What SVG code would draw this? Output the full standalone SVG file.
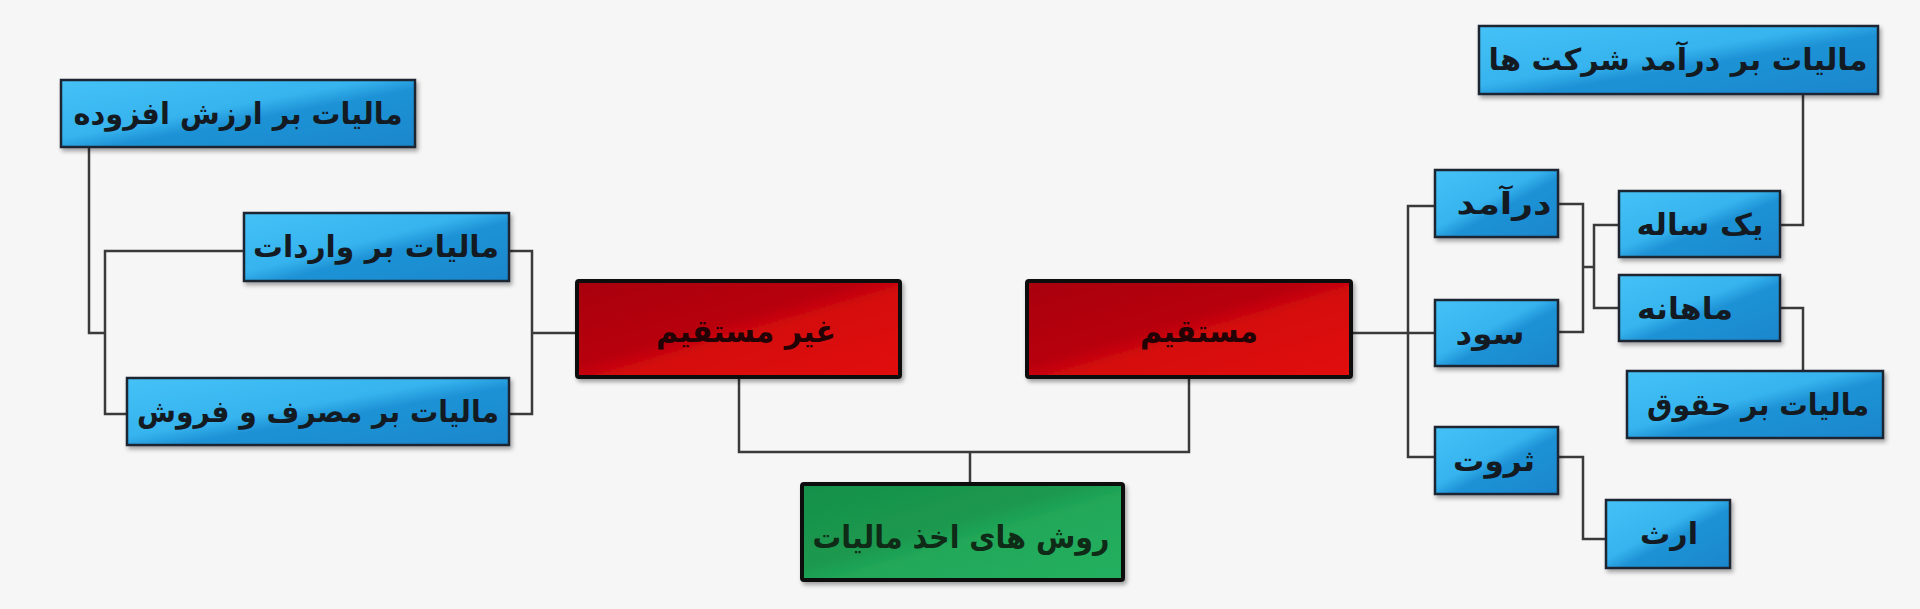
<svg xmlns="http://www.w3.org/2000/svg" width="1920" height="609" viewBox="0 0 1920 609">
<defs>
<linearGradient id="gBlue" x1="0" y1="0" x2="1" y2="1">
<stop offset="0" stop-color="#45c2f7"/><stop offset="0.44" stop-color="#36b3ee"/><stop offset="0.56" stop-color="#1f93d6"/><stop offset="1" stop-color="#1986cc"/>
</linearGradient>
<linearGradient id="gRed" x1="0" y1="0" x2="1" y2="1">
<stop offset="0" stop-color="#a80008"/><stop offset="0.44" stop-color="#b8000a"/><stop offset="0.56" stop-color="#d50a0c"/><stop offset="1" stop-color="#e2100f"/>
</linearGradient>
<linearGradient id="gGreen" x1="0" y1="0" x2="1" y2="1">
<stop offset="0" stop-color="#17904a"/><stop offset="0.44" stop-color="#1b994f"/><stop offset="0.56" stop-color="#21a859"/><stop offset="1" stop-color="#24b05e"/>
</linearGradient>
<filter id="sh" x="-10%" y="-10%" width="120%" height="130%">
<feDropShadow dx="2" dy="3" stdDeviation="2" flood-color="#000" flood-opacity="0.35"/>
</filter>
</defs>
<style>
.bg{fill:#f6f6f6}
.blue{fill:url(#gBlue);stroke:#1c2733;stroke-width:2.5;filter:url(#sh)}
.red{fill:url(#gRed);stroke:#0a0a0a;stroke-width:4;filter:url(#sh)}
.green{fill:url(#gGreen);stroke:#0a0a0a;stroke-width:4;filter:url(#sh)}
text{font-family:"DejaVu Sans",sans-serif;text-anchor:middle}
.bt{font-weight:bold;font-size:30px;fill:#141a22}
.rt{font-weight:bold;font-size:31px;fill:#220204}
.gt{font-weight:bold;font-size:31px;fill:#0f2a17}
.conn path{fill:none;stroke:#3a3a3a;stroke-width:2.5}
</style>
<rect class="bg" x="0" y="0" width="1920" height="609"/>
<g class="conn" id="connectors">
<path d="M577,333 H532"/>
<path d="M509,251 H532 V414 H509"/>
<path d="M244,251 H105 V414 H127"/>
<path d="M89,147 V333 H105"/>
<path d="M739,377 V452 H1189 V377"/>
<path d="M970,452 V484"/>
<path d="M1351,333 H1408"/>
<path d="M1435,206 H1408 V457 H1435"/>
<path d="M1408,333 H1435"/>
<path d="M1558,204 H1583 V332 H1558"/>
<path d="M1583,267 H1594"/>
<path d="M1619,225 H1594 V308 H1619"/>
<path d="M1780,225 H1803 V94"/>
<path d="M1780,308 H1803 V371"/>
<path d="M1558,457 H1583 V539 H1606"/>
</g>
<g id="n-vat"><rect class="blue" x="61" y="80" width="354" height="67"/><text class="bt" x="238" y="124" direction="rtl" textLength="329" lengthAdjust="spacingAndGlyphs">مالیات بر ارزش افزوده</text></g>
<g id="n-import"><rect class="blue" x="244" y="213" width="265" height="68"/><text class="bt" x="376" y="257" direction="rtl" textLength="246" lengthAdjust="spacingAndGlyphs">مالیات بر واردات</text></g>
<g id="n-sales"><rect class="blue" x="127" y="378" width="382" height="67"/><text class="bt" x="318" y="422" direction="rtl" textLength="362" lengthAdjust="spacingAndGlyphs">مالیات بر مصرف و فروش</text></g>
<g id="n-indirect"><rect class="red" x="577" y="281" width="323" height="96" rx="2"/><text class="rt" x="746" y="342" direction="rtl" textLength="180" lengthAdjust="spacingAndGlyphs">غیر مستقیم</text></g>
<g id="n-direct"><rect class="red" x="1027" y="281" width="324" height="96" rx="2"/><text class="rt" x="1199" y="342" direction="rtl" textLength="118" lengthAdjust="spacingAndGlyphs">مستقیم</text></g>
<g id="n-root"><rect class="green" x="802" y="484" width="321" height="96" rx="2"/><text class="gt" x="961" y="548" direction="rtl" textLength="297" lengthAdjust="spacingAndGlyphs">روش های اخذ مالیات</text></g>
<g id="n-corp"><rect class="blue" x="1479" y="26" width="399" height="68"/><text class="bt" x="1678" y="70" direction="rtl" textLength="379" lengthAdjust="spacingAndGlyphs">مالیات بر درآمد شرکت ها</text></g>
<g id="n-income"><rect class="blue" x="1435" y="170" width="123" height="67"/><text class="bt" x="1504" y="214" direction="rtl" textLength="95" lengthAdjust="spacingAndGlyphs">درآمد</text></g>
<g id="n-profit"><rect class="blue" x="1435" y="300" width="123" height="66"/><text class="bt" x="1490" y="344" direction="rtl" textLength="69" lengthAdjust="spacingAndGlyphs">سود</text></g>
<g id="n-wealth"><rect class="blue" x="1435" y="427" width="123" height="67"/><text class="bt" x="1494" y="471" direction="rtl" textLength="82" lengthAdjust="spacingAndGlyphs">ثروت</text></g>
<g id="n-annual"><rect class="blue" x="1619" y="191" width="161" height="66"/><text class="bt" x="1700" y="235" direction="rtl" textLength="127" lengthAdjust="spacingAndGlyphs">یک ساله</text></g>
<g id="n-monthly"><rect class="blue" x="1619" y="275" width="161" height="66"/><text class="bt" x="1685" y="319" direction="rtl" textLength="96" lengthAdjust="spacingAndGlyphs">ماهانه</text></g>
<g id="n-salary"><rect class="blue" x="1627" y="371" width="256" height="67"/><text class="bt" x="1758" y="415" direction="rtl" textLength="222" lengthAdjust="spacingAndGlyphs">مالیات بر حقوق</text></g>
<g id="n-inherit"><rect class="blue" x="1606" y="500" width="124" height="68"/><text class="bt" x="1669" y="544" direction="rtl" textLength="58" lengthAdjust="spacingAndGlyphs">ارث</text></g>
</svg>
